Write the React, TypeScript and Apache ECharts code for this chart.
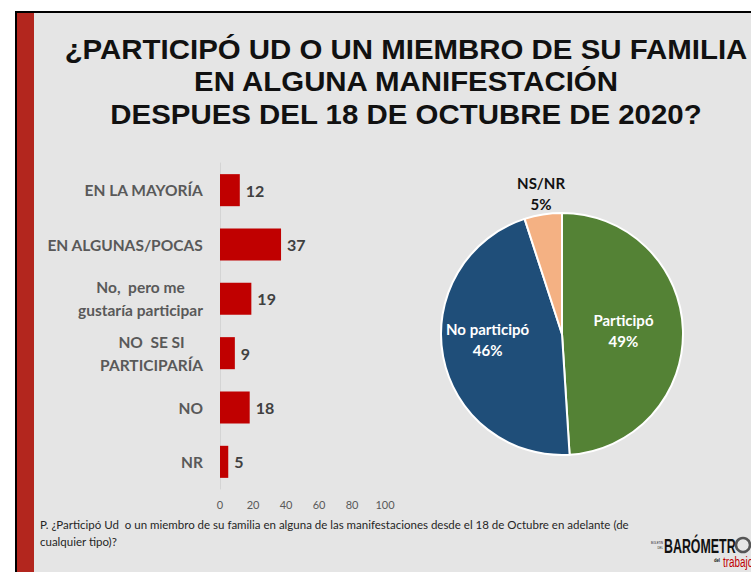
import React, { useEffect, useRef } from "react";
import * as echarts from "echarts";

const titleLines = [
  "¿PARTICIPÓ UD O UN MIEMBRO DE SU FAMILIA",
  "EN ALGUNA MANIFESTACIÓN",
  "DESPUES DEL 18 DE OCTUBRE DE 2020?",
];
const categories = [
  "EN LA MAYORÍA",
  "EN ALGUNAS/POCAS",
  "No,  pero me\ngustaría participar",
  "NO  SE SI\nPARTICIPARÍA",
  "NO",
  "NR",
];
const barValues = [12, 37, 19, 9, 18, 5];
const xMin = 0;
const xMax = 100;
const xStep = 20;
const pieNames = ["Participó", "No participó", "NS/NR"];
const pieValues = [49, 46, 5];
const pieColors = ["#548235", "#1F4E79", "#F4B183"];
const footnoteLines = [
  "P. ¿Participó Ud  o un miembro de su familia en alguna de las manifestaciones desde el 18 de Octubre en adelante (de",
  "cualquier tipo)?",
];

const CAL = "Lato, 'Open Sans', 'Noto Sans', sans-serif";
const ARIAL = "'Liberation Sans', Arial, sans-serif";

export default function App() {
  const ref = useRef<HTMLDivElement>(null);
  useEffect(() => {
    if (!ref.current) return;
    const chart = echarts.init(ref.current, undefined, { renderer: "svg" });
    const option: any = {
      animation: false,
      backgroundColor: "#ffffff",
      graphic: [
        { type: "rect", z: -10, silent: true, shape: { x: 15, y: 11, width: 760, height: 580 }, style: { fill: "#000000" } },
        { type: "rect", z: -9, silent: true, shape: { x: 17, y: 13, width: 760, height: 580 }, style: { fill: "#E5E5E5" } },
        { type: "rect", z: -8, silent: true, shape: { x: 17, y: 13, width: 17, height: 580 }, style: { fill: "#B3261E" } },
        {
          type: "text",
          z: 5,
          x: 406,
          y: 33,
          scaleX: 1.09,
          style: {
            text: titleLines.join("\n"),
            align: "center",
            verticalAlign: "top",
            fontFamily: ARIAL,
            fontWeight: "bold",
            fontSize: 27,
            lineHeight: 32.5,
            fill: "#111111",
          },
        },
        {
          type: "text",
          z: 5,
          x: 40,
          y: 515.5,
          style: {
            text: footnoteLines.join("\n"),
            align: "left",
            verticalAlign: "top",
            fontFamily: CAL,
            fontSize: 11.5,
            lineHeight: 17,
            fill: "#262626",
          },
        },
        {
          type: "text",
          z: 5,
          x: 664,
          y: 546,
          scaleX: 0.62,
          style: {
            text: "BARÓMETR",
            align: "left",
            verticalAlign: "middle",
            fontFamily: ARIAL,
            fontWeight: "bold",
            fontSize: 20,
            fill: "#111111",
          },
        },
        {
          type: "circle",
          z: 5,
          shape: { cx: 743, cy: 545, r: 7 },
          style: { fill: "none", stroke: "#555555", lineWidth: 2.5 },
        },
        {
          type: "text",
          z: 5,
          x: 723,
          y: 562,
          scaleX: 0.66,
          style: {
            text: "trabajo",
            align: "left",
            verticalAlign: "middle",
            fontFamily: ARIAL,
            fontSize: 15,
            fill: "#C00000",
          },
        },
        {
          type: "text",
          z: 5,
          x: 720,
          y: 560,
          scaleX: 0.7,
          style: { text: "del", align: "right", verticalAlign: "middle", fontFamily: ARIAL, fontWeight: "bold", fontSize: 6, fill: "#111111" },
        },
        {
          type: "text",
          z: 5,
          x: 663,
          y: 545,
          scaleX: 0.7,
          style: { text: "BOLETÍN\nDEL", align: "right", verticalAlign: "middle", fontFamily: ARIAL, fontSize: 4, lineHeight: 5, fill: "#111111" },
        },
      ],
      grid: { left: 220, top: 163, width: 165, height: 326, containLabel: false },
      xAxis: {
        type: "value",
        min: xMin,
        max: xMax,
        interval: xStep,
        axisLine: { show: false },
        axisTick: { show: false },
        splitLine: { show: false },
        axisLabel: { color: "#595959", fontFamily: CAL, fontSize: 11, margin: 10 },
      },
      yAxis: {
        type: "category",
        data: categories,
        inverse: true,
        axisLine: { show: true, lineStyle: { color: "#D4D4D4", width: 1 } },
        axisTick: { show: false },
        axisLabel: {
          margin: 17,
          align: "right",
          formatter: (v: string) => v.split("\n").map((s) => "{c|" + s + "}").join("\n"),
          rich: {
            c: {
              align: "center",
              color: "#595959",
              fontFamily: CAL,
              fontWeight: "bold",
              fontSize: 15.5,
              lineHeight: 23,
            },
          },
        },
      },
      series: [
        {
          type: "bar",
          data: barValues,
          barCategoryGap: "41%",
          itemStyle: { color: "#C00000" },
          label: {
            show: true,
            position: "right",
            distance: 6,
            color: "#404040",
            fontFamily: CAL,
            fontWeight: "bold",
            fontSize: 16,
          },
        },
        {
          type: "pie",
          center: [562, 334],
          radius: 121,
          startAngle: 90,
          clockwise: true,
          itemStyle: { borderColor: "#ffffff", borderWidth: 2 },
          labelLine: { show: false, length: 0, length2: 0 },
          data: pieNames.map((n, i) => ({
            name: n,
            value: pieValues[i],
            itemStyle: { color: pieColors[i] },
            label:
              i < 2
                ? { position: "inner", color: "#ffffff" }
                : { position: "outside", color: "#111111" },
          })),
          label: {
            show: true,
            formatter: "{b}\n{c}%",
            fontFamily: CAL,
            fontWeight: "bold",
            fontSize: 15,
            lineHeight: 21,
            align: "center",
          },
          labelLayout: (p: any) => {
            if (p.dataIndex === 1) return { dx: -12, dy: -6 };
            if (p.dataIndex === 2) return { align: "center", verticalAlign: "bottom", dx: 3, dy: 0 };
            return { dx: -2, dy: -2 };
          },
        },
      ],
    };
    chart.setOption(option);
    return () => chart.dispose();
  }, []);
  return <div ref={ref} style={{ position: "absolute", left: 0, top: 0, width: 751, height: 572 }} />;
}
